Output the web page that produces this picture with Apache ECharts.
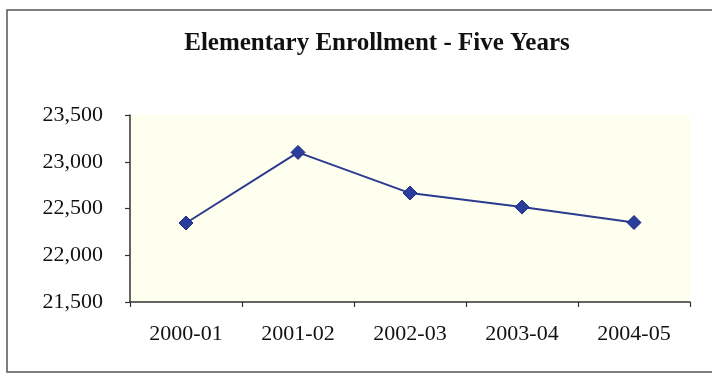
<!DOCTYPE html>
<html>
<head>
<meta charset="utf-8">
<script src="https://cdn.jsdelivr.net/npm/echarts@6/dist/echarts.min.js"></script>
<style>
  html, body { margin: 0; padding: 0; background: #ffffff; }
  #chart { width: 712px; height: 376px; }
</style>
</head>
<body>
<div id="chart"></div>
<script>
// School years on the category axis
const years = ['2000-01', '2001-02', '2002-03', '2003-04', '2004-05'];
// Elementary enrollment per year
const enrollment = [22345, 23100, 22665, 22515, 22350];
// Value axis range and step
const yMin = 21500;
const yMax = 23500;
const yStep = 500;

const chart = echarts.init(document.getElementById('chart'), null, { renderer: 'canvas' });

const serif = '"Liberation Serif", "Times New Roman", serif';

chart.setOption({
  backgroundColor: '#ffffff',
  animation: false,
  title: {
    text: 'Elementary Enrollment - Five Years',
    left: 372,
    top: 26,
    textAlign: 'center',
    textStyle: {
      fontFamily: serif,
      fontWeight: 'bold',
      fontSize: 25,
      color: '#111111'
    }
  },
  graphic: [{
    type: 'rect',
    shape: { x: 7, y: 10, width: 740, height: 362 },
    style: { fill: 'none', stroke: '#555555', lineWidth: 1.5 },
    silent: true,
    z: -1
  }],
  grid: {
    left: 130,
    right: 22,
    top: 115,
    bottom: 74,
    show: true,
    backgroundColor: '#fffff0',
    borderWidth: 0
  },
  xAxis: {
    type: 'category',
    data: years,
    boundaryGap: true,
    axisLine: { lineStyle: { color: '#333333', width: 1.5 } },
    axisTick: { show: true, alignWithLabel: false, length: 5, inside: false, lineStyle: { color: '#333333', width: 1.2 } },
    axisLabel: {
      fontFamily: serif,
      fontSize: 22,
      color: '#111111',
      margin: 21
    },
    splitLine: { show: false }
  },
  yAxis: {
    type: 'value',
    min: yMin,
    max: yMax,
    interval: yStep,
    axisLine: { show: true, lineStyle: { color: '#333333', width: 1.5 } },
    axisTick: { show: true, length: 5, lineStyle: { color: '#333333', width: 1.2 } },
    axisLabel: {
      fontFamily: serif,
      fontSize: 22,
      color: '#111111',
      margin: 27,
      formatter: v => v.toLocaleString('en-US')
    },
    splitLine: { show: false }
  },
  series: [{
    type: 'line',
    data: enrollment,
    symbol: 'diamond',
    symbolSize: 14,
    lineStyle: { color: '#2b3a8f', width: 2 },
    itemStyle: { color: '#2a3d9c', borderColor: '#1e2d7a', borderWidth: 1 }
  }]
});
</script>
</body>
</html>
